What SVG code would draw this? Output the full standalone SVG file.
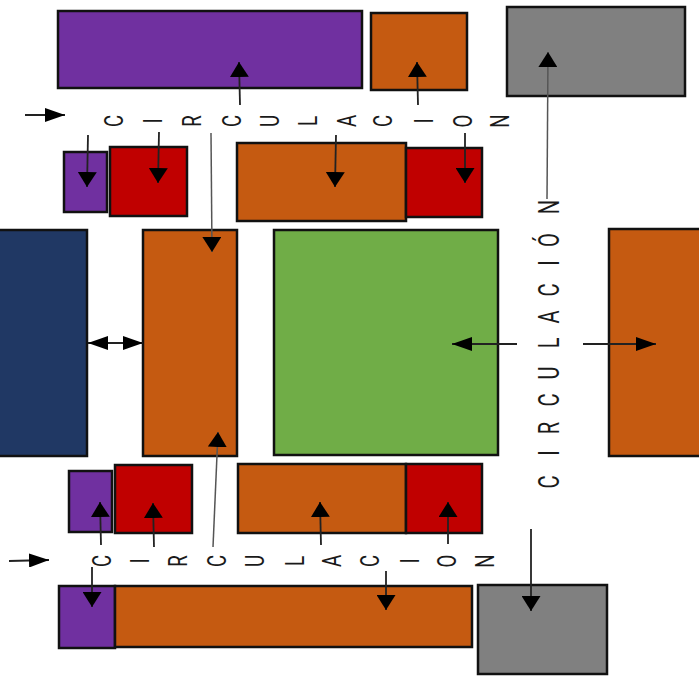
<svg xmlns="http://www.w3.org/2000/svg" width="699" height="677" viewBox="0 0 699 677">
<style>
rect{stroke:#111;stroke-width:2.5}
.pu{fill:#7030A0}.or{fill:#C55A11}.re{fill:#C00000}.gr{fill:#808080}.nv{fill:#203864}.gn{fill:#70AD47}
.c line{stroke:#222;stroke-width:1.8;fill:none}
.c .v{marker-end:url(#av)}
.c .h{marker-end:url(#ah)}
.c .g{stroke:#555;stroke-width:1.5}
.t{font-family:Roboto,"Liberation Sans",sans-serif;font-weight:400;fill:#1a1a1a;text-anchor:middle}
</style>
<defs>
<marker id="av" markerUnits="userSpaceOnUse" orient="auto" markerWidth="15" markerHeight="19" refX="15" refY="9.5" viewBox="0 0 15 19"><path d="M0,0 L15,9.5 L0,19 z" fill="#000"/></marker>
<marker id="ah" markerUnits="userSpaceOnUse" orient="auto-start-reverse" markerWidth="20" markerHeight="14" refX="20" refY="7" viewBox="0 0 20 14"><path d="M0,0 L20,7 L0,14 z" fill="#000"/></marker>
</defs>
<g id="n-top-purple"><rect class="pu" x="58" y="11" width="304" height="77"/></g>
<g id="n-top-orange"><rect class="or" x="371" y="13" width="96" height="77"/></g>
<g id="n-top-gray"><rect class="gr" x="507" y="7" width="178" height="89"/></g>
<g id="n-r2-purple"><rect class="pu" x="64" y="152" width="43" height="60"/></g>
<g id="n-r2-red"><rect class="re" x="110" y="147" width="77" height="69"/></g>
<g id="n-r2-orange"><rect class="or" x="237" y="143" width="169" height="78"/></g>
<g id="n-r2-red2"><rect class="re" x="406" y="148" width="76" height="69"/></g>
<g id="n-navy"><rect class="nv" x="-3" y="230" width="90" height="226"/></g>
<g id="n-tall-orange"><rect class="or" x="143" y="230" width="94" height="226"/></g>
<g id="n-green"><rect class="gn" x="274" y="230" width="224" height="225"/></g>
<g id="n-right-orange"><rect class="or" x="609" y="229" width="93" height="227"/></g>
<g id="n-r4-purple"><rect class="pu" x="69" y="471" width="43" height="61"/></g>
<g id="n-r4-red"><rect class="re" x="115" y="465" width="77" height="68"/></g>
<g id="n-r4-orange"><rect class="or" x="238" y="464" width="168" height="69"/></g>
<g id="n-r4-red2"><rect class="re" x="406" y="464" width="76" height="69"/></g>
<g id="n-bot-purple"><rect class="pu" x="59" y="586" width="56" height="62"/></g>
<g id="n-bot-orange"><rect class="or" x="115" y="586" width="357" height="61"/></g>
<g id="n-bot-gray"><rect class="gr" x="478" y="585" width="129" height="89"/></g>

<g id="label-top" transform="translate(0,121) rotate(-90) scale(0.75,1)">
<text class="t" font-size="25" x="0 0 0 0 0 0 0 0 0 0 0" y="122.9 161.9 200.9 240.9 278.9 316.9 355.9 391.9 432.9 471.9 508.9">CIRCULACION</text>
</g>
<g id="label-bottom" transform="translate(0,561) rotate(-90) scale(0.75,1)">
<text class="t" font-size="25" x="0 0 0 0 0 0 0 0 0 0 0" y="110.9 148.9 186.9 225.9 263.9 303.9 340.9 378.9 418.9 455.9 493.9">CIRCULACION</text>
</g>
<g id="label-vertical" transform="translate(548,0) rotate(-90) scale(0.67,1)">
<text class="t" font-size="30" x="-719.4 -676.1 -638.8 -597 -556.7 -511.9 -473.1 -432.8 -392.5 -358.2 -309" y="10.7">CIRCULACIÓN</text>
</g>

<g id="connectors" class="c">
<line class="h" x1="25" y1="115" x2="65" y2="115"/>
<line class="v" x1="240" y1="105" x2="239" y2="62"/>
<line class="v" x1="418" y1="105" x2="417" y2="62"/>
<line class="v g" x1="547" y1="199" x2="548" y2="52"/>
<line class="v" x1="88" y1="135" x2="87" y2="187"/>
<line class="v" x1="159" y1="132" x2="158" y2="183"/>
<line class="v g" x1="211" y1="133" x2="212" y2="252"/>
<line class="v" x1="336" y1="135" x2="335" y2="187"/>
<line class="v" x1="465" y1="133" x2="465" y2="183"/>
<line class="h" x1="88" y1="343" x2="143" y2="343" marker-start="url(#ah)"/>
<line class="h" x1="517" y1="344" x2="452" y2="344"/>
<line class="h" x1="583" y1="344" x2="656" y2="344"/>
<line class="v g" x1="213" y1="547" x2="218" y2="432"/>
<line class="v" x1="101" y1="545" x2="100" y2="502"/>
<line class="v" x1="154" y1="547" x2="153" y2="503"/>
<line class="v" x1="321" y1="545" x2="320" y2="502"/>
<line class="v" x1="448" y1="544" x2="448" y2="502"/>
<line class="h" x1="9" y1="561" x2="49" y2="560"/>
<line class="v" x1="92" y1="567" x2="92" y2="607"/>
<line class="v" x1="386" y1="571" x2="386" y2="610"/>
<line class="v" x1="531" y1="529" x2="531" y2="611"/>
</g>
</svg>
